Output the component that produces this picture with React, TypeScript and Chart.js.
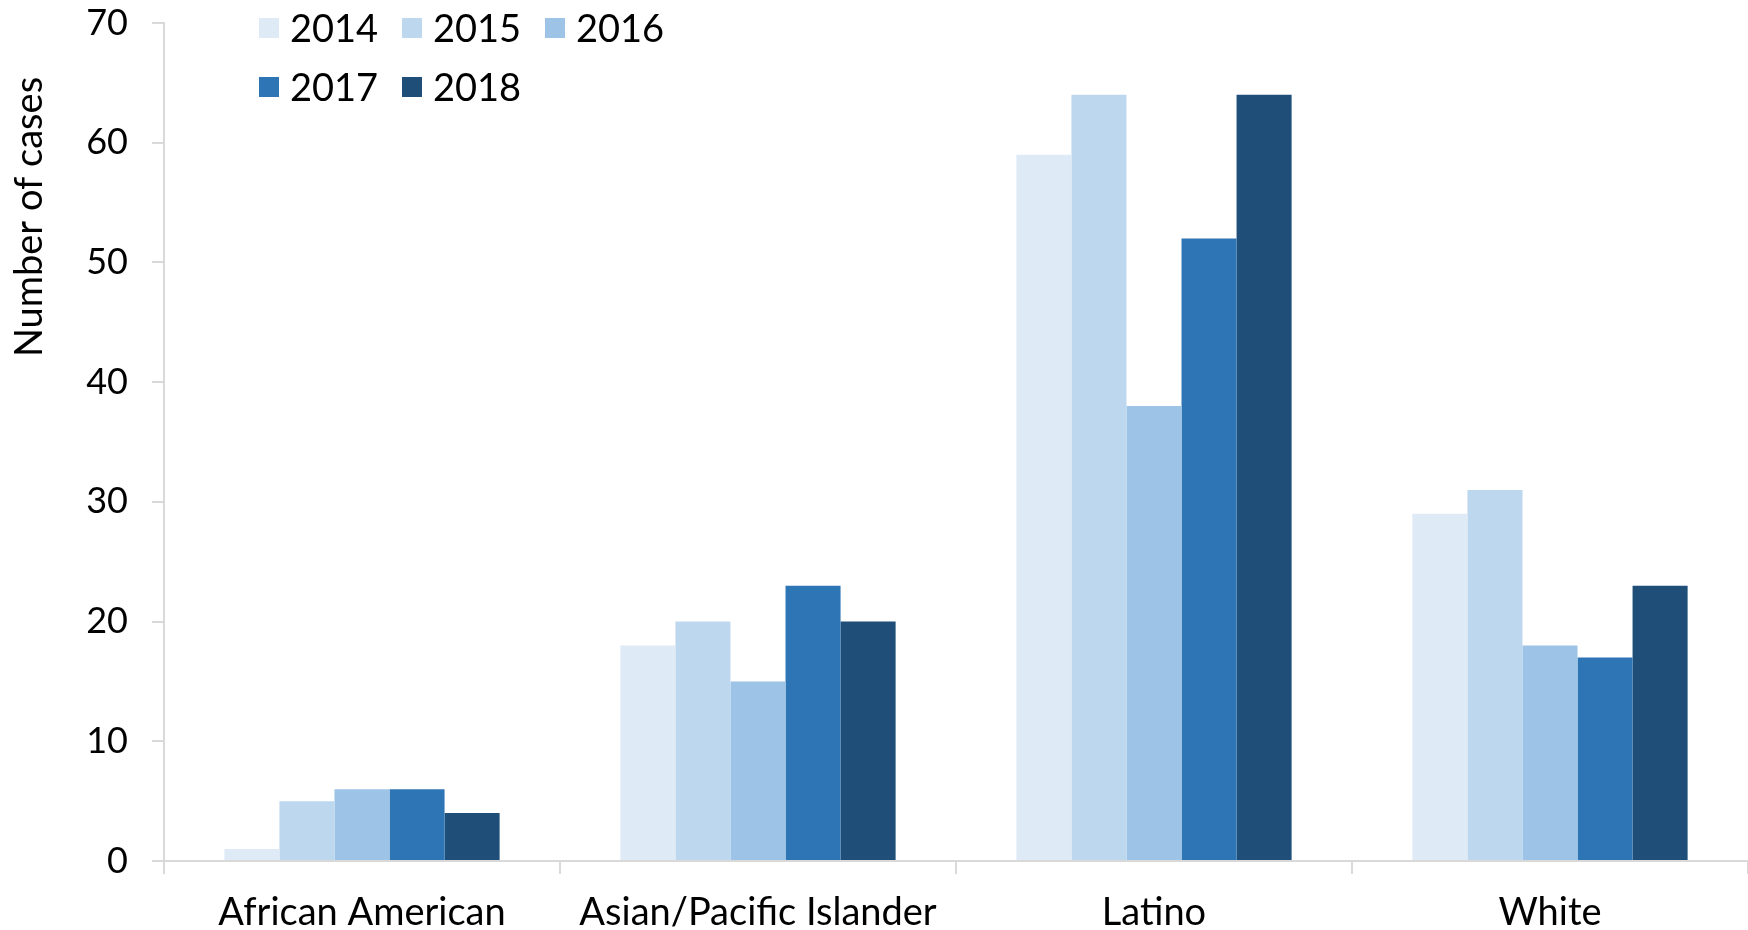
import React, { useEffect, useRef } from "react";
import { Chart, registerables } from "chart.js";

Chart.register(...registerables);

const categories = ["African American", "Asian/Pacific Islander", "Latino", "White"];
const seriesLabels = ["2014", "2015", "2016", "2017", "2018"];
const values2014 = [1, 18, 59, 29];
const values2015 = [5, 20, 64, 31];
const values2016 = [6, 15, 38, 18];
const values2017 = [6, 23, 52, 17];
const values2018 = [4, 20, 64, 23];
const seriesColors = ["#DEEAF6", "#BDD7EE", "#9DC3E6", "#2E75B6", "#1F4E79"];
const yTitle = "Number of cases";
const yMin = 0;
const yMax = 70;
const yStep = 10;

const FONT = "Lato, 'Open Sans', sans-serif";
const AXIS_COLOR = "#D9D9D9";
const RIGHT_OVERHANG = -7;

const legendPlugin = {
  id: "customLegend",
  afterDraw(chart: any) {
    const ctx = chart.ctx;
    const area = chart.chartArea;
    ctx.save();
    ctx.font = `38px ${FONT}`;
    ctx.textBaseline = "middle";
    ctx.textAlign = "left";
    chart.data.datasets.forEach((ds: any, i: number) => {
      const row = Math.floor(i / 3);
      const col = i % 3;
      const x = area.left + 95 + col * 143;
      const y = 28 + row * 59;
      ctx.fillStyle = ds.backgroundColor;
      ctx.fillRect(x, y - 10, 20, 20);
      ctx.fillStyle = "#000";
      ctx.fillText(ds.label, x + 31, y + 2);
    });
    ctx.restore();
  },
};

const yTitlePlugin = {
  id: "yTitle",
  afterDraw(chart: any) {
    const ctx = chart.ctx;
    ctx.save();
    ctx.font = `38px ${FONT}`;
    ctx.fillStyle = "#000";
    ctx.textAlign = "center";
    ctx.textBaseline = "middle";
    ctx.translate(30, 217);
    ctx.rotate(-Math.PI / 2);
    ctx.fillText(yTitle, 0, 0);
    ctx.restore();
  },
};

export default function App() {
  const canvasRef = useRef<HTMLCanvasElement | null>(null);

  useEffect(() => {
    if (!canvasRef.current) return;
    const allValues = [values2014, values2015, values2016, values2017, values2018];
    const chart = new Chart(canvasRef.current, {
      type: "bar",
      data: {
        labels: categories,
        datasets: seriesLabels.map((label, i) => ({
          label,
          data: allValues[i],
          backgroundColor: seriesColors[i],
          borderWidth: 0,
          categoryPercentage: 0.695,
          barPercentage: 1.0,
        })),
      },
      options: {
        animation: false,
        responsive: true,
        maintainAspectRatio: false,
        layout: { padding: { top: 0, right: RIGHT_OVERHANG, left: 0, bottom: 0 } },
        plugins: {
          legend: { display: false },
          tooltip: { enabled: false },
        },
        scales: {
          x: {
            grid: {
              display: true,
              offset: true,
              drawOnChartArea: false,
              drawTicks: true,
              tickLength: 13,
              color: AXIS_COLOR,
              lineWidth: 2,
            },
            border: { display: true, color: AXIS_COLOR, width: 2 },
            ticks: {
              color: "#000",
              font: { family: FONT, size: 38 },
              padding: 16,
              maxRotation: 0,
              autoSkip: false,
            },
            afterFit(scale: any) {
              scale.height = 69;
              scale.paddingLeft = 0;
              scale.paddingRight = RIGHT_OVERHANG;
            },
          },
          y: {
            min: yMin,
            max: yMax,
            grid: {
              display: true,
              drawOnChartArea: false,
              drawTicks: true,
              tickLength: 12,
              color: AXIS_COLOR,
              lineWidth: 2,
            },
            border: { display: true, color: AXIS_COLOR, width: 2 },
            ticks: {
              stepSize: yStep,
              color: "#000",
              font: { family: FONT, size: 36 },
              padding: 24,
            },
            afterFit(scale: any) {
              scale.width = 164;
              scale.paddingTop = 23;
              scale.paddingBottom = 23;
              scale.paddingRight = RIGHT_OVERHANG;
            },
          },
        },
      },
      plugins: [legendPlugin, yTitlePlugin],
    });
    return () => chart.destroy();
  }, []);

  return (
    <div style={{ position: "fixed", left: 0, top: 0, width: 1748, height: 930, background: "#fff" }}>
      <canvas ref={canvasRef} />
    </div>
  );
}
